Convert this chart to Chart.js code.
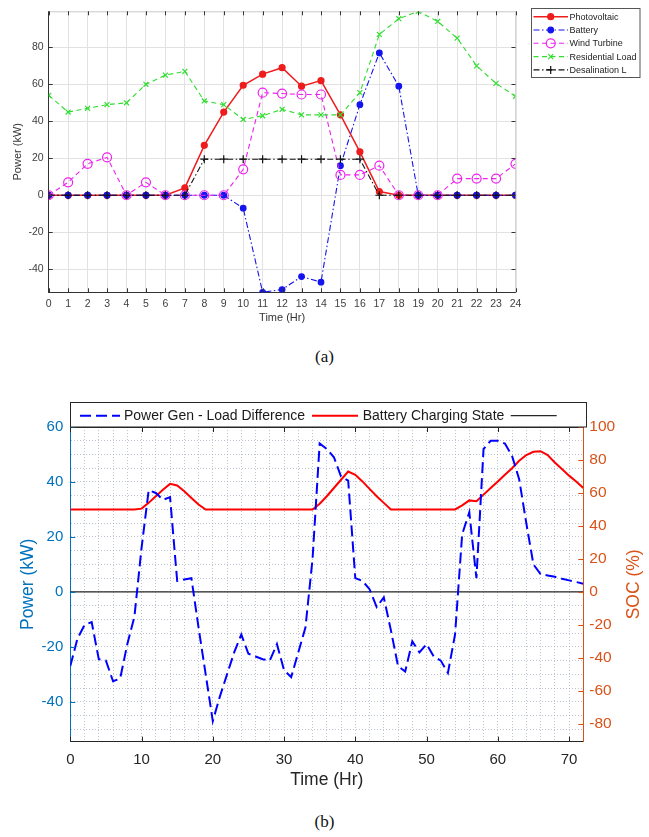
<!DOCTYPE html>
<html>
<head>
<meta charset="utf-8">
<script src="https://cdn.jsdelivr.net/npm/chart.js@4.4.1/dist/chart.umd.min.js"></script>
<style>
body{margin:0;background:#fff;width:649px;height:837px;position:relative;overflow:hidden}
.box{position:absolute;left:0}
.box canvas{display:block}
.cap{position:absolute;left:0;width:649px;text-align:center;font-family:"Liberation Serif","Times New Roman",serif;font-size:17px;color:#111;line-height:20px}
</style>
</head>
<body>
<div class="box" style="top:0"><canvas id="chartA" width="649" height="335"></canvas></div>
<div class="cap" style="top:347px">(a)</div>
<div class="box" style="top:395px"><canvas id="chartB" width="649" height="405"></canvas></div>
<div class="cap" style="top:812px">(b)</div>
<script>
// (a) hourly power flows, one day
const hours = [0, 1, 2, 3, 4, 5, 6, 7, 8, 9, 10, 11, 12, 13, 14, 15, 16, 17, 18, 19, 20, 21, 22, 23, 24];
const photovoltaic = [0, 0, 0, 0, 0, 0, 0, 4, 27, 45, 59.5, 65.5, 69, 59, 62, 43.5, 23.5, 2, 0, 0, 0, 0, 0, 0, 0];
const battery = [0, 0, 0, 0, 0, 0, 0, 0, 0, 0, -7, -52.5, -51, -44, -47, 16, 49, 77, 59, 0, 0, 0, 0, 0, 0];
const windTurbine = [0, 7, 17, 20.5, 0, 7, 0, 0, 0, 0, 14, 55.5, 55, 54.5, 54.5, 11, 11, 16, 0, 0, 0, 9, 9, 9, 17];
const residentialLoad = [54, 45, 47, 49, 50, 60, 65, 67, 51, 49, 41, 43, 46.5, 43.5, 43.5, 43.5, 55.5, 87, 95.5, 99.5, 94, 85, 70, 60.5, 53.5];
const desalinationLoad = [0, 0, 0, 0, 0, 0, 0, 0, 19.5, 19.5, 19.5, 19.5, 19.5, 19.5, 19.5, 19.5, 19.5, 0, 0, 0, 0, 0, 0, 0, 0];

// (b) three days
const hoursB = [0, 1, 2, 3, 4, 5, 6, 7, 8, 9, 10, 11, 12, 13, 14, 15, 16, 17, 18, 19, 20, 21, 22, 23, 24,
  25, 26, 27, 28, 29, 30, 31, 32, 33, 34, 35, 36, 37, 38, 39, 40, 41, 42, 43, 44, 45, 46, 47, 48,
  49, 50, 51, 52, 53, 54, 55, 56, 57, 58, 59, 60, 61, 62, 63, 64, 65, 66, 67, 68, 69, 70, 71, 72];
const powerDiff = [-27, -17, -12, -11, -24.5, -25, -32.5, -31.5, -19, -9, 16, 37, 36, 33.5, 34.5, 4, 4.5, 5, -13, -30, -47, -38, -30, -22, -15.5,
  -22.5, -23.5, -24.5, -25, -19, -28.5, -31, -22, -13, 12, 54, 52, 49, 42, 40.5, 5, 4, 1, -5.5, -2, -14, -27, -29, -18,
  -22, -19, -23.5, -25, -29.5, -15.5, 21, 29, 5, 52, 55, 55, 54, 49.5, 41, 25, 10, 6.5, 6, 5.5, 4.8, 4.2, 3.6, 3];
const batterySoc = [50, 50, 50, 50, 50, 50, 50, 50, 50, 50, 50.5, 54, 58, 62, 65.5, 64.5, 61, 57, 53, 50, 50, 50, 50, 50, 50,
  50, 50, 50, 50, 50, 50, 50, 50, 50, 50, 53.5, 58, 63, 68, 73, 71, 67, 62.5, 58, 54, 50, 50, 50, 50,
  50, 50, 50, 50, 50, 50, 52.5, 55.5, 55, 59, 63, 67, 71, 75, 79.5, 83, 85, 85.3, 83, 78.5, 74.5, 70.5, 67, 63];
const zeroLevel = 0;

const FONT = "'Liberation Sans', Arial, Helvetica, sans-serif";

function pts(xs, ys) {
    return xs.map((x, i) => ({ x: x, y: ys[i] }));
}

function mark(ctx, ds, x, y) {
    ctx.fillStyle = ds.pointBackgroundColor;
    ctx.strokeStyle = ds.pointBorderColor;
    ctx.lineWidth = ds.pointBorderWidth;
    if (Chart.helpers && Chart.helpers.drawPoint) {
        Chart.helpers.drawPoint(ctx, { pointStyle: ds.pointStyle, radius: ds.pointRadius, borderWidth: ds.pointBorderWidth, rotation: 0 }, x, y);
    } else {
        ctx.beginPath(); ctx.arc(x, y, ds.pointRadius, 0, Math.PI * 2); ctx.fill(); ctx.stroke();
    }
}

function lineA(label, values, color, dash, style, radius, filled, width, order) {
    return {
        label: label,
        data: pts(hours, values),
        borderColor: color,
        backgroundColor: color,
        borderWidth: width,
        borderDash: dash,
        pointStyle: style,
        pointRadius: radius,
        pointBorderColor: color,
        pointBackgroundColor: filled ? color : 'rgba(0,0,0,0)',
        pointBorderWidth: 1.2,
        tension: 0,
        fill: false,
        order: order
    };
}

// legend box on the right of (a)
const legendA = {
    id: 'legendA',
    afterDraw(chart) {
        const ctx = chart.ctx;
        ctx.save();
        ctx.fillStyle = '#fff';
        ctx.fillRect(531.5, 8.5, 108.5, 69);
        ctx.strokeStyle = '#555';
        ctx.lineWidth = 1;
        ctx.strokeRect(531.5, 8.5, 108.5, 69);
        ctx.font = '9px ' + FONT;
        ctx.textBaseline = 'middle';
        ctx.textAlign = 'left';
        chart.data.datasets.forEach((ds, i) => {
            const y = 16.7 + i * 13.3;
            ctx.strokeStyle = ds.borderColor;
            ctx.lineWidth = ds.borderWidth;
            ctx.setLineDash(ds.borderDash);
            ctx.beginPath(); ctx.moveTo(533.5, y); ctx.lineTo(568, y); ctx.stroke();
            ctx.setLineDash([]);
            mark(ctx, ds, 550.7, y);
            ctx.fillStyle = '#222';
            ctx.fillText(ds.label, 569.5, y + 0.5);
        });
        ctx.restore();
    }
};

// box and inward ticks, matlab style
const frameA = {
    id: 'frameA',
    afterDatasetsDraw(chart) {
        const { ctx, chartArea: a, scales: { x, y } } = chart;
        ctx.save();
        ctx.strokeStyle = '#c8c8c8';
        ctx.lineWidth = 1;
        ctx.beginPath();
        ctx.moveTo(a.left, a.top + 0.5); ctx.lineTo(a.right + 0.5, a.top + 0.5); ctx.lineTo(a.right + 0.5, a.bottom);
        ctx.stroke();
        ctx.strokeStyle = '#333';
        ctx.beginPath();
        x.ticks.forEach(t => {
            const px = Math.round(x.getPixelForValue(t.value)) + 0.5;
            ctx.moveTo(px, a.bottom); ctx.lineTo(px, a.bottom - 4);
            ctx.moveTo(px, a.top); ctx.lineTo(px, a.top + 4);
        });
        y.ticks.forEach(t => {
            const py = Math.round(y.getPixelForValue(t.value)) + 0.5;
            ctx.moveTo(a.left, py); ctx.lineTo(a.left + 4, py);
            ctx.moveTo(a.right, py); ctx.lineTo(a.right - 4, py);
        });
        ctx.stroke();
        ctx.restore();
    }
};

new Chart(document.getElementById('chartA').getContext('2d'), {
    type: 'line',
    data: {
        datasets: [
            lineA('Photovoltaic', photovoltaic, '#ee1c1c', [], 'circle', 3, true, 1.5, 5),
            lineA('Battery', battery, '#1414ee', [6, 2.5, 1.5, 2.5], 'circle', 2.8, true, 1.1, 4),
            lineA('Wind Turbine', windTurbine, '#ee22ee', [5, 3.5], 'circle', 4.5, false, 1.1, 3),
            lineA('Residential Load', residentialLoad, '#30dd30', [5, 3.5], 'crossRot', 3.5, false, 1.1, 2),
            lineA('Desalination L', desalinationLoad, '#111111', [6, 2.5, 1.5, 2.5], 'cross', 4, false, 1.1, 1)
        ]
    },
    options: {
        responsive: false,
        animation: false,
        layout: { padding: { left: 0, right: 133.5, top: 8.3, bottom: 0 } },
        plugins: { legend: { display: false }, tooltip: { enabled: false } },
        scales: {
            x: {
                type: 'linear',
                min: 0,
                max: 24,
                ticks: { stepSize: 1, autoSkip: false, maxRotation: 0, padding: 6, color: '#404040', font: { family: FONT, size: 10.5 } },
                grid: { color: '#e2e2e2', drawTicks: false },
                border: { color: '#333', width: 1 },
                title: { display: true, text: 'Time (Hr)', color: '#333', font: { family: FONT, size: 11 }, padding: { top: 0, bottom: 10 } },
                afterFit(s) { s.height = 42.7; }
            },
            y: {
                min: -52.5,
                max: 99.5,
                ticks: { stepSize: 20, includeBounds: false, autoSkip: false, padding: 5, color: '#404040', font: { family: FONT, size: 10.5 } },
                grid: { color: '#e2e2e2', drawTicks: false },
                border: { color: '#333', width: 1 },
                title: { display: true, text: 'Power (kW)', color: '#333', font: { family: FONT, size: 11 }, padding: { top: 11, bottom: 0 } },
                afterFit(s) { s.width = 48.7; }
            }
        }
    },
    plugins: [frameA, legendA]
});

// (b) ---------------------------------------------------------------
const BLUE_AX = '#0072BD';
const ORANGE_AX = '#D95319';
const DOT_GRID = 'rgba(135,150,170,0.55)';

const legendB = {
    id: 'legendB',
    afterDraw(chart) {
        const ctx = chart.ctx;
        const ds = chart.data.datasets;
        const y = 20.7;
        ctx.save();
        ctx.fillStyle = '#fff';
        ctx.fillRect(70.5, 7.5, 516, 24.5);
        ctx.strokeStyle = '#262626';
        ctx.lineWidth = 1;
        ctx.strokeRect(70.5, 7.5, 516, 24.5);
        ctx.font = '14px ' + FONT;
        ctx.textBaseline = 'middle';
        ctx.textAlign = 'left';
        const items = [[80, 120, 124], [312, 358, 362.7], [510.7, 556.7, 0]];
        ds.forEach((d, i) => {
            const it = items[i];
            ctx.strokeStyle = d.borderColor;
            ctx.lineWidth = d.borderWidth;
            ctx.setLineDash(d.borderDash || []);
            ctx.beginPath(); ctx.moveTo(it[0], y); ctx.lineTo(it[1], y); ctx.stroke();
            ctx.setLineDash([]);
            if (d.label) {
                ctx.fillStyle = '#1a1a1a';
                ctx.fillText(d.label, it[2], y + 0.5);
            }
        });
        ctx.restore();
    }
};

const frameB = {
    id: 'frameB',
    afterDatasetsDraw(chart) {
        const { ctx, chartArea: a, scales: { x, y, y1 } } = chart;
        ctx.save();
        ctx.lineWidth = 1;
        ctx.strokeStyle = '#262626';
        ctx.beginPath();
        ctx.moveTo(a.left, a.top + 0.5); ctx.lineTo(a.right, a.top + 0.5);
        x.ticks.filter(t => t.value % 10 === 0).forEach(t => {
            const px = Math.round(x.getPixelForValue(t.value)) + 0.5;
            ctx.moveTo(px, a.bottom); ctx.lineTo(px, a.bottom - 5);
            ctx.moveTo(px, a.top); ctx.lineTo(px, a.top + 5);
        });
        ctx.stroke();
        ctx.strokeStyle = BLUE_AX;
        ctx.beginPath();
        y.ticks.filter(t => t.value % 20 === 0).forEach(t => {
            const py = Math.round(y.getPixelForValue(t.value)) + 0.5;
            ctx.moveTo(a.left, py); ctx.lineTo(a.left + 5, py);
        });
        ctx.stroke();
        ctx.strokeStyle = ORANGE_AX;
        ctx.beginPath();
        y1.ticks.forEach(t => {
            const py = Math.round(y1.getPixelForValue(t.value)) + 0.5;
            ctx.moveTo(a.right, py); ctx.lineTo(a.right - 5, py);
        });
        ctx.stroke();
        // right axis title reads bottom to top
        ctx.translate(634, (a.top + a.bottom) / 2);
        ctx.rotate(-Math.PI / 2);
        ctx.fillStyle = ORANGE_AX;
        ctx.font = '17.5px ' + FONT;
        ctx.textAlign = 'center';
        ctx.textBaseline = 'middle';
        ctx.fillText('SOC (%)', 0, 0);
        ctx.restore();
    }
};

new Chart(document.getElementById('chartB').getContext('2d'), {
    type: 'line',
    data: {
        datasets: [
            {
                label: 'Power Gen - Load Difference',
                data: pts(hoursB, powerDiff),
                yAxisID: 'y',
                borderColor: '#0000ff',
                borderWidth: 2,
                borderDash: [11, 5],
                pointRadius: 0,
                tension: 0,
                fill: false
            },
            {
                label: 'Battery Charging State',
                data: pts(hoursB, batterySoc),
                yAxisID: 'y1',
                borderColor: '#ff0000',
                borderWidth: 2,
                borderDash: [],
                pointRadius: 0,
                tension: 0,
                fill: false
            },
            {
                label: '',
                data: [{ x: hoursB[0], y: zeroLevel }, { x: hoursB[hoursB.length - 1], y: zeroLevel }],
                yAxisID: 'y',
                borderColor: '#262626',
                borderWidth: 1.3,
                borderDash: [],
                pointRadius: 0,
                fill: false
            }
        ]
    },
    options: {
        responsive: false,
        animation: false,
        layout: { padding: { left: 0, right: 0, top: 32, bottom: 0 } },
        plugins: { legend: { display: false }, tooltip: { enabled: false } },
        scales: {
            x: {
                type: 'linear',
                min: 0,
                max: 72,
                ticks: {
                    stepSize: 2, autoSkip: false, maxRotation: 0, padding: 9, color: '#262626',
                    font: { family: FONT, size: 15 },
                    callback: v => (v % 10 === 0 ? v : '')
                },
                grid: { color: DOT_GRID, drawTicks: false },
                border: { color: '#262626', width: 1, dash: [1, 2] },
                title: { display: true, text: 'Time (Hr)', color: '#262626', font: { family: FONT, size: 17.5 }, padding: { top: 0, bottom: 9.5 } },
                afterFit(s) { s.height = 58.3; }
            },
            y: {
                position: 'left',
                min: -54.5,
                max: 60,
                ticks: {
                    stepSize: 5, includeBounds: false, autoSkip: false, padding: 7, color: BLUE_AX,
                    font: { family: FONT, size: 15 },
                    callback: v => (Math.round(v) % 20 === 0 ? Math.round(v) : '')
                },
                grid: { color: DOT_GRID, drawTicks: false },
                border: { color: BLUE_AX, width: 1, dash: [1, 2] },
                title: { display: true, text: 'Power (kW)', color: BLUE_AX, font: { family: FONT, size: 17.5 }, padding: { top: 17.8, bottom: 0 } },
                afterFit(s) { s.width = 70.3; }
            },
            y1: {
                position: 'right',
                min: -90.83,
                max: 100,
                ticks: { stepSize: 20, includeBounds: false, autoSkip: false, padding: 6, color: ORANGE_AX, font: { family: FONT, size: 15.5 } },
                grid: { drawOnChartArea: false, drawTicks: false },
                border: { color: ORANGE_AX, width: 1 },
                afterFit(s) { s.width = 65.7; }
            }
        }
    },
    plugins: [frameB, legendB]
});
</script>
</body>
</html>
